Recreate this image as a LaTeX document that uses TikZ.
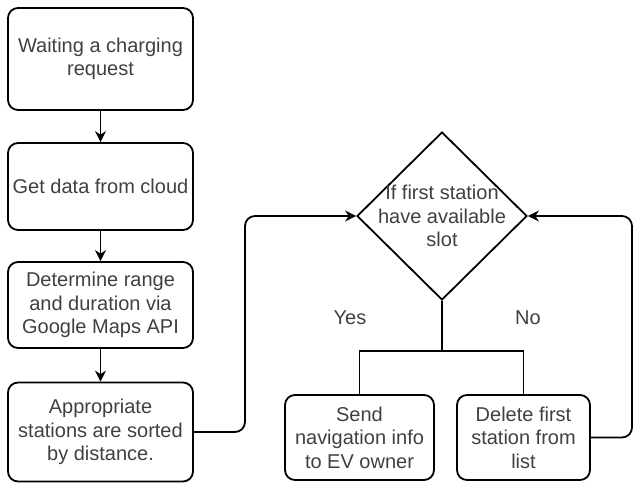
\documentclass[tikz,border=0pt]{standalone}
\usepackage{fontspec}
\setmainfont{Liberation Sans}
\usepackage{tikz}
\usetikzlibrary{arrows.meta,shapes.geometric}

\tikzset{
  txt/.style={text=black!75, font=\fontsize{20}{23.5}\selectfont, align=center},
  box/.style={txt, draw=black, line width=1.8pt, rounded corners=10pt, inner sep=0pt},
  decision/.style={draw=black, line width=1.8pt, diamond, inner sep=0pt, minimum width=170pt, minimum height=168pt},
  flow/.style={line width=1.8pt, -{Stealth[length=11pt,width=11pt]}},
  link/.style={line width=1.8pt},
}

\begin{document}
\begin{tikzpicture}[x=1pt,y=-1pt]
  \useasboundingbox (0,0) rectangle (635,485);

  % left column
  \node[box, minimum width=185pt, minimum height=102pt] (wait) at (100.5,59) {Waiting a charging\\request};
  \node[box, minimum width=185pt, minimum height=87pt] (cloud) at (100.5,186.5) {Get data from cloud};
  \node[box, minimum width=185pt, minimum height=86pt] (range) at (100.5,305) {Determine range\\and duration via\\Google Maps API};
  \node[box, minimum width=185pt, minimum height=99pt] (sorted) at (100.5,432) {Appropriate\\stations are sorted\\by distance.};

  \draw[flow] (wait) -- (cloud);
  \draw[flow] (cloud) -- (range);
  \draw[flow] (range) -- (sorted);

  % decision and branches
  \node[decision, label={[txt]center:If first station\\have available\\slot}] (check) at (442,216) {};
  \node[box, minimum width=149pt, minimum height=85pt] (send) at (359.5,437.5) {Send\\navigation info\\to EV owner};
  \node[box, minimum width=133pt, minimum height=85pt] (delete) at (523.5,437.5) {Delete first\\station from\\list};

  \draw[link] (check.south) -- ++(0,50) coordinate (split);
  \draw[link] (send.north) |- (split) -| (delete.north);

  \node[txt] (yes) at (350,318) {Yes};
  \node[txt] (no) at (528,318) {No};

  % loops back to the decision
  \coordinate (lbend) at (245,216);
  \coordinate (rbend) at (632,216);
  \draw[flow, rounded corners=10pt] (sorted.east) -| (lbend) -- (check.west);
  \draw[flow, rounded corners=10pt] (delete.east) -| (rbend) -- (check.east);
\end{tikzpicture}
\end{document}
